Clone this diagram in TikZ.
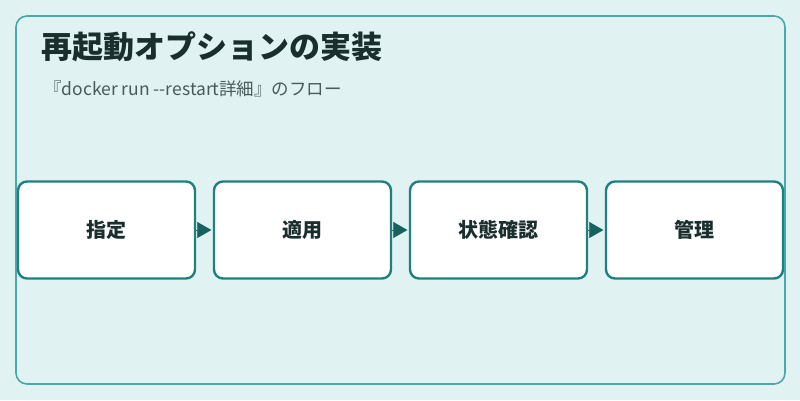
\documentclass[tikz,border=0pt]{standalone}
\usepackage{fontspec}
\setmainfont{Noto Sans CJK JP}
\newfontfamily\jp{Noto Sans CJK JP}
\usetikzlibrary{positioning,arrows.meta}
\definecolor{bgc}{HTML}{E0F3F2}
\definecolor{framec}{HTML}{4AA8A8}
\definecolor{boxc}{HTML}{1E8080}
\definecolor{arrc}{HTML}{16625F}
\definecolor{inkc}{HTML}{1A2E2E}
\definecolor{subc}{HTML}{4A5A5A}
\begin{document}
\begin{tikzpicture}[x=1pt,y=-1pt, line join=round, line cap=round,
 stepbox/.style={draw=boxc, line width=2.4pt, fill=white, rounded corners=9pt,
  minimum width=177pt, minimum height=97pt, inner sep=0pt, font=\jp\bfseries\fontsize{20}{23}\selectfont, text=inkc},
 flow/.style={draw=arrc, fill=arrc, line width=0.2pt, -{Triangle[length=14pt,width=16pt]}, shorten >=1.5pt}]
 \fill[bgc] (0,0) rectangle (800,400);
 \draw[framec, line width=1.6pt, rounded corners=11pt, fill=bgc] (16,16) rectangle (785,384);
 \path
 (41,47) node[anchor=west, inner sep=0pt, text=inkc, font=\jp\bfseries\fontsize{31}{36}\selectfont]{再起動オプションの実装}
 (44,89) node[anchor=west, inner sep=0pt, text=subc, font=\jp\fontsize{17.5}{20}\selectfont]{『docker run --restart詳細』のフロー};
 \node[stepbox] (spec) at (106.5,230) {指定};
 \node[stepbox, right=16.6pt of spec] (apply) {適用};
 \node[stepbox, right=16.6pt of apply] (check) {状態確認};
 \node[stepbox, right=16.6pt of check] (manage) {管理};
 \draw[flow] (spec.east) -- (apply.west);
 \draw[flow] (apply.east) -- (check.west);
 \draw[flow] (check.east) -- (manage.west);
\end{tikzpicture}
\end{document}
